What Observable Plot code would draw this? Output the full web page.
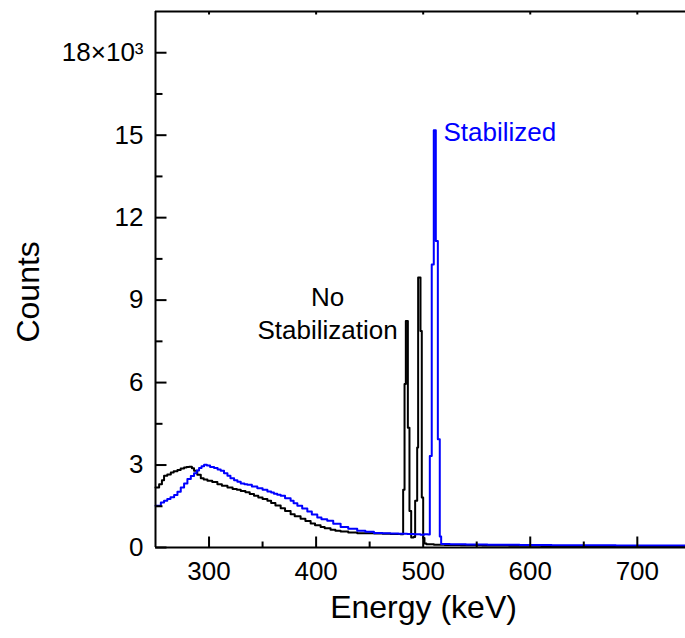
<!DOCTYPE html>
<html><head><meta charset="utf-8">
<script src="https://cdn.jsdelivr.net/npm/d3@7"></script>
<script src="https://cdn.jsdelivr.net/npm/@observablehq/plot@0.6"></script>
<style>body{margin:0;background:#fff}</style>
</head><body><div id="chart"></div>
<script>
// No Stabilization (black) spectrum: energy (keV) and counts
const blackEnergy = [250,253.4,256,258,261,264.3,267,270.5,273.5,276.7,279,281.4,284,286,289,292.3,295,298.5,303,307.8,312,317.2,322,326,329.6,334,338,342,346,350,354.5,358,362,366.9,371,376.2,380,385.5,390,394.9,399,404.2,408,413.5,418,422.9,430,438.4,446,454,462,469.5,474,478.8,481.3,482.6,483.8,485.7,487.2,488.8,491,492.5,494.4,495.3,497.5,498.7,500,501.2,503,510,520,535,555,580,610,640,670,700,725,745];
const blackCounts = [2180,2300,2450,2610,2660,2730,2770,2820,2870,2910,2930,2935,2880,2790,2650,2520,2470,2430,2380,2300,2250,2180,2130,2100,2060,2010,1950,1880,1820,1760,1700,1620,1530,1430,1330,1210,1140,1050,960,870,810,750,700,650,610,580,550,520,515,510,500,490,490,480,2100,5950,8240,4360,1330,360,380,1700,3640,9820,7880,1820,350,150,120,100,90,80,70,60,55,50,45,40,40,40];
// Stabilized (blue) spectrum
const blueEnergy = [250,255,258,261,264,267.4,270.5,273.6,276.7,279.8,283,286,288.5,290.7,293,295.4,298,301,304.7,308,310.9,314,317.2,320,323.4,326.5,329.6,333,335.8,340,345.1,350,354.5,358,360.6,363.7,366.9,371,376.2,379,382.5,387,391.8,396,401.1,405,410.4,416,422.9,430,438.4,446,454,462,469.5,477,485.1,491,497.5,501,504.5,506.2,508,509.9,511.8,513.7,515.5,516.8,525,540,560,590,620,650,680,710,745];
const blueCounts = [1520,1640,1700,1760,1830,1910,2030,2180,2330,2490,2600,2700,2800,2890,2960,3010,2980,2930,2890,2840,2790,2700,2610,2520,2450,2390,2330,2300,2280,2220,2160,2100,2040,2000,1960,1920,1880,1790,1700,1610,1520,1420,1310,1200,1090,1030,970,860,750,680,610,570,530,520,510,500,490,480,460,480,470,3330,10300,15180,11150,3940,400,130,120,110,100,90,85,80,75,70,65];

const yTickValues = [0,3000,6000,9000,12000,15000,18000];
const yTickLabels = ["0","3","6","9","12","15","18×10³"];
const yMinorTicks = [1500,4500,7500,10500,13500,16500];
const xTickValues = [300,400,500,600,700];
const xMinorTicks = [350,450,550,650];

const xAxisTitle = "Energy (keV)";
const yAxisTitle = "Counts";
const stabLabel = "Stabilized";
const noStabLabel = "No\nStabilization";

const noStab = blackEnergy.map((e, i) => ({energy: e, counts: blackCounts[i]}));
const stab = blueEnergy.map((e, i) => ({energy: e, counts: blueCounts[i]}));
const yMajorRows = yTickValues.map(v => ({v}));
const yMinorRows = yMinorTicks.map(v => ({v}));
const xMajorRows = xTickValues.map(v => ({v}));
const xMinorRows = xMinorTicks.map(v => ({v}));

const blue = "#0000ff";
const W = 685, H = 638, ML = 155, MR = 0, MT = 11, MB = 91;
const frameW = W - ML - MR, frameH = H - MT - MB;
const xDomain = [250, 745], yDomain = [0, 19500];
// data units per pixel, so tick lengths can be given in pixels
const kx = (xDomain[1] - xDomain[0]) / frameW;
const ky = (yDomain[1] - yDomain[0]) / frameH;

const chart = Plot.plot({
  width: W, height: H,
  marginLeft: ML, marginRight: MR, marginTop: MT, marginBottom: MB,
  x: {domain: xDomain},
  y: {domain: yDomain},
  style: {fontFamily: "'Liberation Sans', Arial, sans-serif", fontSize: "26px", color: "#000", background: "#fff"},
  marks: [
    Plot.line(noStab, {x: "energy", y: "counts", curve: "step-after", stroke: "#000", strokeWidth: 2}),
    Plot.line(stab, {x: "energy", y: "counts", curve: "step-after", stroke: blue, strokeWidth: 2}),
    Plot.ruleX([xDomain[0]], {stroke: "#000", strokeWidth: 2}),
    Plot.ruleY([yDomain[0]], {stroke: "#000", strokeWidth: 2}),
    Plot.ruleY([yDomain[1]], {stroke: "#000", strokeWidth: 2}),
    // inward ticks
    Plot.link(yMajorRows, {x1: () => xDomain[0], x2: () => xDomain[0] + 11 * kx, y1: "v", y2: "v", stroke: "#000", strokeWidth: 2}),
    Plot.link(yMinorRows, {x1: () => xDomain[0], x2: () => xDomain[0] + 7 * kx, y1: "v", y2: "v", stroke: "#000", strokeWidth: 2}),
    Plot.link(xMajorRows, {x1: "v", x2: "v", y1: () => yDomain[0], y2: () => yDomain[0] + 11 * ky, stroke: "#000", strokeWidth: 2}),
    Plot.link(xMinorRows, {x1: "v", x2: "v", y1: () => yDomain[0], y2: () => yDomain[0] + 6 * ky, stroke: "#000", strokeWidth: 2}),
    Plot.link(xMajorRows, {x1: "v", x2: "v", y1: () => yDomain[1], y2: () => yDomain[1] - 3 * ky, stroke: "#000", strokeWidth: 2}),
    // tick labels
    Plot.axisY(yTickValues, {tickSize: 0, tickPadding: 12, tickFormat: (d, i) => yTickLabels[i], fontSize: 26, label: null}),
    Plot.axisX(xTickValues, {tickSize: 0, tickPadding: 14, fontSize: 26, label: null}),
    // titles
    Plot.text([{e: 250, c: 9300, t: yAxisTitle}], {x: "e", y: "c", text: "t", rotate: -90, dx: -127, fontSize: 32, fill: "#000"}),
    Plot.text([xAxisTitle], {frameAnchor: "bottom", dx: 3, dy: 70, fontSize: 32, fill: "#000"}),
    // annotations
    Plot.text([{e: 519, c: 15100, t: stabLabel}], {x: "e", y: "c", text: "t", textAnchor: "start", fill: blue, fontSize: 26}),
    Plot.text([{e: 410.7, c: 8570, t: noStabLabel}], {x: "e", y: "c", text: "t", textAnchor: "middle", lineHeight: 1.26, fill: "#000", fontSize: 26})
  ]
});
document.getElementById("chart").appendChild(chart);
</script>
</body></html>
